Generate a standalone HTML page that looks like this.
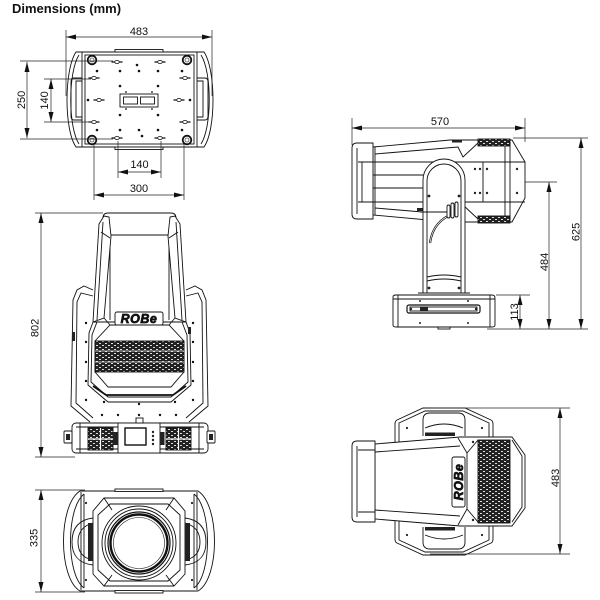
<!DOCTYPE html>
<html><head><meta charset="utf-8">
<style>
html,body{margin:0;padding:0;background:#fff;width:600px;height:600px;overflow:hidden}
svg{display:block}
text{font-family:"Liberation Sans",Arial,sans-serif;fill:#111}
</style></head><body>
<svg width="600" height="600" viewBox="0 0 600 600" xmlns="http://www.w3.org/2000/svg">
<defs>
<pattern id="gr" width="6" height="4" patternUnits="userSpaceOnUse">
<rect width="6" height="4" fill="#222"/>
<rect x="0" y="1" width="2" height="1" fill="#ddd"/>
<rect x="3" y="3" width="2" height="1" fill="#ddd"/>
</pattern>
<g id="h"><path d="M-5.5,0H-2.5M2.5,0H5.5" stroke="#111" stroke-width="1.2"/><ellipse rx="2.2" ry="1.6" fill="#fff" stroke="#111" stroke-width="0.8"/></g>
</defs>
<rect width="600" height="600" fill="#fff"/>
<text x="12" y="13" font-size="13" font-weight="bold">Dimensions (mm)</text>

<!-- ========== VIEW 1: BASE ========== -->
<g stroke="#111" stroke-width="0.9" fill="none">
<path d="M76,52 L204,52 C216,70 216,130 204,147 L76,147 C64,130 64,70 76,52 Z" fill="#fff"/>
<path d="M79,55 C68,72 68,127 79,144 M201,55 C212,72 212,127 201,144"/>
<path d="M82,52 V147 M197,52 V147"/>
<rect x="85" y="55" width="109" height="89"/>
<rect x="115" y="49.5" width="48" height="2.5" fill="#fff"/>
<rect x="115" y="147" width="48" height="2.5" fill="#fff"/>
<path d="M82,78 H74 Q71,78 71,82 V116 Q71,120 74,120 H82 M82,81 H76 V117 H82"/>
<path d="M197,78 H205 Q208,78 208,82 V116 Q208,120 205,120 H197 M197,81 H203 V117 H197"/>
<rect x="120" y="94" width="38" height="13"/>
<rect x="123.5" y="97" width="14" height="7"/>
<rect x="140.5" y="97" width="14" height="7"/>
</g>
<g fill="none" stroke="#111">
<circle cx="92" cy="60" r="4.3" stroke-width="1.8"/><circle cx="92" cy="60" r="2" stroke-width="0.6"/>
<circle cx="187" cy="60" r="4.3" stroke-width="1.8"/><circle cx="187" cy="60" r="2" stroke-width="0.6"/>
<circle cx="92" cy="140" r="4.3" stroke-width="1.8"/><circle cx="92" cy="140" r="2" stroke-width="0.6"/>
<circle cx="187" cy="140" r="4.3" stroke-width="1.8"/><circle cx="187" cy="140" r="2" stroke-width="0.6"/>
</g>
<use href="#h" x="117" y="62"/><use href="#h" x="160" y="62"/>
<use href="#h" x="94" y="78"/><use href="#h" x="185" y="78"/>
<use href="#h" x="99" y="100"/><use href="#h" x="179" y="100"/>
<use href="#h" x="94" y="122"/><use href="#h" x="185" y="122"/>
<use href="#h" x="117" y="138"/><use href="#h" x="160" y="138"/>
<g fill="#111">
<circle cx="97" cy="71" r="1.3"/><circle cx="120" cy="71" r="1.3"/><circle cx="137" cy="65" r="1.3"/><circle cx="139" cy="71" r="1.3"/><circle cx="158" cy="71" r="1.3"/><circle cx="182" cy="71" r="1.3"/>
<circle cx="120" cy="86" r="1.3"/><circle cx="158" cy="86" r="1.3"/>
<circle cx="88" cy="100" r="1.3"/><circle cx="190" cy="100" r="1.3"/>
<circle cx="120" cy="115" r="1.3"/><circle cx="158" cy="115" r="1.3"/>
<circle cx="97" cy="130" r="1.3"/><circle cx="120" cy="130" r="1.3"/><circle cx="139" cy="130" r="1.3"/><circle cx="158" cy="130" r="1.3"/><circle cx="182" cy="130" r="1.3"/><circle cx="142" cy="136" r="1.3"/>
<circle cx="126" cy="92" r="0.9"/><circle cx="152" cy="92" r="0.9"/><circle cx="126" cy="109" r="0.9"/><circle cx="152" cy="109" r="0.9"/>
</g>

<!-- ========== VIEW 2: FRONT ========== -->
<g stroke="#111" stroke-width="0.9" fill="none">
<path d="M93,290 L84,286 L77,290 L73,300 L71,406 L90,422"/>
<path d="M93,296 L81,293 L77,302 L76,403 L93,418"/>
<path d="M186,290 L195,286 L202,290 L206,300 L208,406 L189,422"/>
<path d="M186,296 L198,293 L202,302 L203,403 L186,418"/>
<path d="M93,322 L89,333 L88,385 L108,402 L171,402 L191,385 L190,333 L186,322 Z" fill="#fff"/>
<path d="M97,322 L92,335 L91,382 L108,397 L171,397 L188,382 L187,335 L182,322"/>
<path d="M93,386 L106,395 H173 L186,386" stroke-width="1.8"/>
<path d="M103,235 V218 Q103,213 108,213 H171 Q176,213 176,218 V235 Z" fill="#fff"/>
<path d="M110,235 V320 M169,235 V320"/>
<path d="M99,224 L104,216 L109,217 L111,236 L104,318 L93,322 Z" fill="#fff"/>
<path d="M103,222 L97,320 M101,232 L110,238"/>
<path d="M180,224 L175,216 L170,217 L168,236 L175,318 L186,322 Z" fill="#fff"/>
<path d="M176,222 L182,320 M178,232 L169,238"/>
<path d="M110,325 H169 L184,341 V372 L171,387 H108 L95,372 V341 Z"/>
<path d="M104,318 L110,325 M175,318 L169,325"/>
<rect x="95" y="341" width="89" height="31" fill="url(#gr)"/>
<path d="M95,351 H184 M95,362 H184" stroke="#eee" stroke-width="0.8"/>
<rect x="115" y="312" width="48" height="13" rx="2" fill="#fff"/>
</g>
<text x="139" y="323" font-size="12.5" font-weight="bold" font-style="italic" text-anchor="middle" fill="#fff" stroke="#111" stroke-width="0.7" letter-spacing="0.5">ROBe</text>
<g fill="#222">
<rect x="72" y="332" width="3" height="9"/><rect x="188" y="327" width="3" height="7"/>
</g>
<g fill="#111">
<circle cx="86" cy="323" r="1.2"/><circle cx="86" cy="342" r="1.2"/><circle cx="86" cy="362" r="1.2"/><circle cx="86" cy="381" r="1.2"/><circle cx="86" cy="400" r="1.2"/>
<circle cx="193" cy="323" r="1.2"/><circle cx="193" cy="342" r="1.2"/><circle cx="193" cy="362" r="1.2"/><circle cx="193" cy="381" r="1.2"/><circle cx="193" cy="400" r="1.2"/>
<circle cx="104" cy="402" r="1.2"/><circle cx="139" cy="404" r="1.2"/><circle cx="175" cy="402" r="1.2"/>
<circle cx="102" cy="415" r="1.2"/><circle cx="118" cy="415" r="1.2"/><circle cx="139" cy="415" r="1.2"/><circle cx="160" cy="415" r="1.2"/><circle cx="176" cy="415" r="1.2"/>
</g>
<g stroke="#111" stroke-width="0.9" fill="none">
<rect x="72" y="423" width="136" height="30" rx="4" fill="#fff"/>
<path d="M76,427 H204 M76,449 H204 M80,423 V453 M199,423 V453"/>
<rect x="88" y="428" width="25" height="22" fill="url(#gr)"/>
<rect x="166" y="428" width="25" height="22" fill="url(#gr)"/>
<path d="M100.5,428V450M88,439H113M178.5,428V450M166,439H191" stroke="#fff" stroke-width="1.2"/>
<rect x="118" y="423" width="42" height="30" fill="#fff"/>
<rect x="125" y="428" width="21" height="17" stroke-width="1.4"/>
<rect x="64" y="431" width="8" height="12" rx="1" fill="#fff"/>
<rect x="207" y="431" width="8" height="12" rx="1" fill="#fff"/>
<rect x="136" y="418" width="7" height="5" fill="#fff"/>
</g>
<g fill="#222">
<rect x="113.5" y="432" width="4" height="13"/><rect x="160.5" y="432" width="4" height="13"/>
<circle cx="153" cy="432" r="1.2"/><circle cx="153" cy="436" r="1.2"/><circle cx="153" cy="440" r="1.2"/><circle cx="153" cy="444" r="1.2"/>
<rect x="66" y="434" width="4" height="6"/><rect x="209" y="434" width="4" height="6"/>
</g>

<!-- ========== VIEW 3: LENS ========== -->
<g stroke="#111" stroke-width="0.9" fill="none">
<path d="M80,491 H198 C220,505 220,578 198,591 H80 C58,578 58,505 80,491 Z" fill="#fff"/>
<path d="M84,494 C66,508 66,575 84,588 M194,494 C212,508 212,575 194,588"/>
<path d="M81,492 V590 M84,494 V588 M197,492 V590 M194,494 V588"/>
<rect x="115" y="489" width="48" height="2.5" fill="#fff"/>
<rect x="115" y="590.5" width="48" height="2.5" fill="#fff"/>
<path d="M93,518 C77,520 72,530 72,542 C72,554 77,563 93,565"/>
<path d="M93,523 C82,526 78,533 78,542 C78,551 82,558 93,560"/>
<path d="M185,518 C201,520 206,530 206,542 C206,554 201,563 185,565"/>
<path d="M185,523 C196,526 200,533 200,542 C200,551 196,558 185,560"/>
<path d="M104,498 H174 L185,511 V574 L174,586 H104 L93,574 V511 Z"/>
<path d="M110,504 H168 L180,515 V570 L168,581 H110 L98,570 V515 Z"/>
<path d="M104,498 L112,510 M174,498 L166,510 M104,586 L112,575 M174,586 L166,575"/>
<circle cx="139" cy="543" r="37"/>
<circle cx="139" cy="543" r="34"/>
<circle cx="139" cy="543" r="31" stroke-width="1.2"/>
<circle cx="139" cy="543" r="28.5" stroke-width="2.4"/>
<circle cx="139" cy="543" r="25.5" stroke-width="0.6"/>
</g>
<g fill="#222">
<rect x="88" y="523" width="4.5" height="38"/><rect x="185.5" y="523" width="4.5" height="38"/>
<circle cx="86" cy="503" r="1.1"/><circle cx="192" cy="503" r="1.1"/><circle cx="86" cy="580" r="1.1"/><circle cx="192" cy="580" r="1.1"/>
</g>

<!-- ========== VIEW 4: SIDE ========== -->
<g stroke="#111" stroke-width="0.9" fill="none">
<path d="M373,147 L450,140 L512,140 L525,162 L525,198 L512,222 L450,222 L373,215 Z" fill="#fff"/>
<path d="M373,143 L357,143 Q352,143 352,148 L352,214 Q352,219 357,219 L373,219 Z" fill="#fff"/>
<path d="M357,148 V214"/>
<path d="M375,154 L458,147 L463,157 L478,143 M375,208 L458,215 L463,205 L478,219"/>
<path d="M358,162 H525 M358,202 H525 M373,175 H423 M373,188 H423"/>
<path d="M362,162 V202 M375,147 V215 M483,162 V202 M505,143 V219 M510,142 V220"/>
<rect x="478" y="139" width="32" height="7" fill="url(#gr)"/>
<rect x="478" y="216" width="32" height="7" fill="url(#gr)"/>
</g>
<g fill="#222">
<rect x="452" y="139.5" width="10" height="3"/><rect x="417" y="208" width="6" height="3"/>
<circle cx="475" cy="169" r="1.2"/><circle cx="480" cy="169" r="1.2"/><circle cx="487" cy="169" r="1.2"/>
<circle cx="475" cy="193" r="1.2"/><circle cx="480" cy="193" r="1.2"/><circle cx="487" cy="193" r="1.2"/>
<circle cx="517" cy="169" r="1.2"/><circle cx="517" cy="193" r="1.2"/>
</g>
<g stroke="#111" stroke-width="0.9" fill="none">
<path d="M423,293 L423,180 A21,21 0 0 1 465,180 L465,293 Z" fill="#fff"/>
<path d="M427,293 L427,181 A17,17 0 0 1 461,181 L461,293"/>
<path d="M427,277 Q444,273 461,277 M427,281 Q444,277 461,281"/>
<path d="M420,212 H452"/>
<path d="M430,243 C432,228 440,218 455,213" stroke-width="2.2"/>
<path d="M430,243 C432,228 440,218 455,213" stroke="#fff" stroke-width="0.7"/>
<rect x="447" y="205" width="3" height="13" rx="1.5" fill="#fff"/>
<rect x="451" y="203" width="3" height="15" rx="1.5" fill="#fff"/>
<rect x="455" y="202" width="3" height="15" rx="1.5" fill="#fff"/>
<path d="M418,293 H470"/>
<path d="M393,297 Q393,295 396,295 L492,295 Q495,295 495,298 L495,325 Q495,327 492,327 L396,327 Q393,327 393,325 Z" fill="#fff"/>
<path d="M393,299 H495 M398,295 V327 M490,295 V327"/>
<rect x="407" y="305" width="73" height="8" rx="2" stroke-width="1.2"/>
<rect x="410" y="307" width="67" height="4"/>
<rect x="438" y="327" width="12" height="2"/>
</g>
<g fill="#222">
<circle cx="429" cy="196" r="1.4"/><circle cx="459" cy="196" r="1.4"/>
<circle cx="429" cy="288" r="1.4"/><circle cx="459" cy="288" r="1.4"/>
<rect x="420" y="307" width="8" height="4"/>
<circle cx="411" cy="309" r="1.2"/><circle cx="476" cy="309" r="1.2"/>
<circle cx="420" cy="301" r="1"/><circle cx="468" cy="301" r="1"/><circle cx="420" cy="323" r="1"/><circle cx="468" cy="323" r="1"/>
</g>

<!-- ========== VIEW 5: TOP ========== -->
<g stroke="#111" stroke-width="0.9" fill="none">
<path d="M423,408 L465,408 L491,420 Q493,421 493,424 L493,539 Q493,542 491,543 L465,555 L423,555 L397,543 Q395,542 395,539 L395,424 Q395,421 397,420 Z" fill="#fff"/>
<path d="M425,411 L463,411 L489,423 L489,540 L463,552 L425,552 L399,540 L399,423 Z"/>
<path d="M423,436 L423,420 Q423,413 430,413 L458,413 Q465,413 465,420 L465,436" fill="#fff"/>
<path d="M425,428 Q444,420 463,428"/>
<path d="M423,527 L423,542 Q423,549 430,549 L458,549 Q465,549 465,542 L465,527" fill="#fff"/>
<path d="M425,535 Q444,543 463,535"/>
</g>
<g fill="#222">
<rect x="425" y="432.5" width="30" height="3.5"/><rect x="425" y="527" width="30" height="3.5"/>
<circle cx="407" cy="428" r="1.1"/><circle cx="482" cy="428" r="1.1"/><circle cx="407" cy="535" r="1.1"/><circle cx="482" cy="535" r="1.1"/>
</g>
<g stroke="#111" stroke-width="0.9" fill="none">
<path d="M375,444 L460,437 L512,437 L525,455 L525,508 L512,526 L460,526 L375,519 Z" fill="#fff"/>
<path d="M375,441 L357,441 Q352,441 352,446 L352,517 Q352,522 357,522 L375,522 Z" fill="#fff"/>
<path d="M357,446 V517 M358,450 H375 M358,512 H375"/>
<path d="M375,452 L460,446 M375,510 L460,516"/>
<path d="M458,438 L467,453 L478,440 M467,453 V509 M458,525 L467,509 L478,522"/>
<rect x="478" y="440" width="32" height="83" fill="url(#gr)"/>
<path d="M512,440 L522,456 V507 L512,522"/>
<rect x="452" y="457" width="13" height="50" rx="2" fill="#fff"/>
</g>
<text transform="translate(463,482) rotate(-90)" font-size="12.5" font-weight="bold" font-style="italic" text-anchor="middle" fill="#fff" stroke="#111" stroke-width="0.7" letter-spacing="0.5">ROBe</text>
<g fill="#222">
<circle cx="473" cy="442" r="1.2"/><circle cx="473" cy="520" r="1.2"/>
</g>

<!-- ========== DIMENSION LINES ========== -->
<g stroke="#222" stroke-width="0.7" fill="none">
<path d="M66,37H212 M27,62V138 M51,79V122 M118,172H161 M94,195H184"/>
<path d="M66,30V96 M212,30V96 M20,61H113 M20,139H113 M44,79H91 M44,122H91 M118,141V178 M161,141V178 M94,144V200 M184,144V200"/>
<path d="M41,213V457 M35,213H103 M35,457H75"/>
<path d="M41,490V592 M35,490H85 M35,592H85"/>
<path d="M352,128H525 M352,118V145 M525,118V142"/>
<path d="M581,138V329 M549,182V329 M520,295V329"/>
<path d="M513,138H588 M525,182H557 M496,295H530 M487,329H588"/>
<path d="M560,408V554 M430,408H570 M430,554H570"/>
</g>
<g fill="#111">
<polygon points="66,37 76,34.5 76,39.5"/><polygon points="212,37 202,34.5 202,39.5"/>
<polygon points="27,62 24.5,72 29.5,72"/><polygon points="27,138 24.5,128 29.5,128"/>
<polygon points="51,79 48.5,89 53.5,89"/><polygon points="51,122 48.5,112 53.5,112"/>
<polygon points="118,172 128,169.5 128,174.5"/><polygon points="161,172 151,169.5 151,174.5"/>
<polygon points="94,195 104,192.5 104,197.5"/><polygon points="184,195 174,192.5 174,197.5"/>
<polygon points="41,213 38.5,223 43.5,223"/><polygon points="41,457 38.5,447 43.5,447"/>
<polygon points="41,490 38.5,500 43.5,500"/><polygon points="41,592 38.5,582 43.5,582"/>
<polygon points="352,128 362,125.5 362,130.5"/><polygon points="525,128 515,125.5 515,130.5"/>
<polygon points="581,138 578.5,148 583.5,148"/><polygon points="581,329 578.5,319 583.5,319"/>
<polygon points="549,182 546.5,192 551.5,192"/><polygon points="549,329 546.5,319 551.5,319"/>
<polygon points="520,295 517.5,305 522.5,305"/><polygon points="520,329 517.5,319 522.5,319"/>
<polygon points="560,408 557.5,418 562.5,418"/><polygon points="560,554 557.5,544 562.5,544"/>
</g>
<g font-size="11">
<text x="139" y="35" text-anchor="middle">483</text>
<text transform="translate(25,100) rotate(-90)" text-anchor="middle">250</text>
<text transform="translate(48,100.5) rotate(-90)" text-anchor="middle">140</text>
<text x="139.5" y="168" text-anchor="middle">140</text>
<text x="139" y="192" text-anchor="middle">300</text>
<text transform="translate(38.5,328) rotate(-90)" text-anchor="middle">802</text>
<text transform="translate(37.5,538) rotate(-90)" text-anchor="middle">335</text>
<text x="440" y="125" text-anchor="middle">570</text>
<text transform="translate(579.5,232) rotate(-90)" text-anchor="middle">625</text>
<text transform="translate(548,262) rotate(-90)" text-anchor="middle">484</text>
<text transform="translate(518,312) rotate(-90)" text-anchor="middle">113</text>
<text transform="translate(559,478) rotate(-90)" text-anchor="middle">483</text>
</g>
</svg>
</body></html>
